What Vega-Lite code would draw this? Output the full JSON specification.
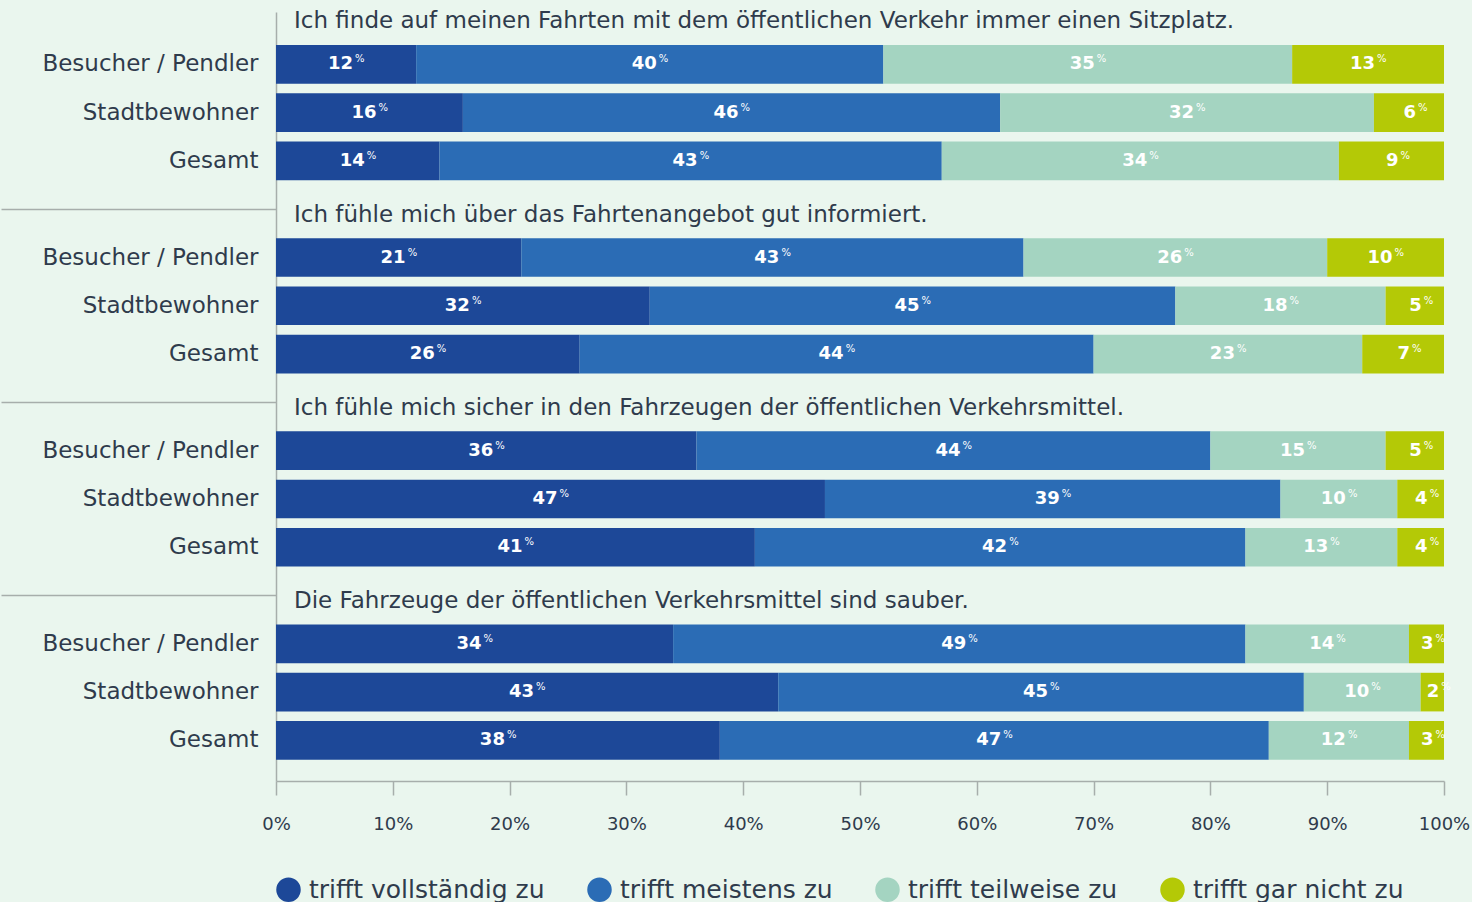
{
  "$schema": "https://vega.github.io/schema/vega-lite/v6.json",
  "width": 1168,
  "height": 769,
  "padding": {"left": 0, "top": 10, "right": 30, "bottom": 2},
  "background": "#eaf6ee",
  "config": {
    "view": {"stroke": null},
    "font": "DejaVu Sans"
  },
  "datasets": {
    "bars": [
      {"row": "1|Besucher / Pendler", "answer": "trifft vollständig zu", "order": 1, "value": 12},
      {"row": "1|Besucher / Pendler", "answer": "trifft meistens zu", "order": 2, "value": 40},
      {"row": "1|Besucher / Pendler", "answer": "trifft teilweise zu", "order": 3, "value": 35},
      {"row": "1|Besucher / Pendler", "answer": "trifft gar nicht zu", "order": 4, "value": 13},
      {"row": "1|Stadtbewohner", "answer": "trifft vollständig zu", "order": 1, "value": 16},
      {"row": "1|Stadtbewohner", "answer": "trifft meistens zu", "order": 2, "value": 46},
      {"row": "1|Stadtbewohner", "answer": "trifft teilweise zu", "order": 3, "value": 32},
      {"row": "1|Stadtbewohner", "answer": "trifft gar nicht zu", "order": 4, "value": 6},
      {"row": "1|Gesamt", "answer": "trifft vollständig zu", "order": 1, "value": 14},
      {"row": "1|Gesamt", "answer": "trifft meistens zu", "order": 2, "value": 43},
      {"row": "1|Gesamt", "answer": "trifft teilweise zu", "order": 3, "value": 34},
      {"row": "1|Gesamt", "answer": "trifft gar nicht zu", "order": 4, "value": 9},
      {"row": "2|Besucher / Pendler", "answer": "trifft vollständig zu", "order": 1, "value": 21},
      {"row": "2|Besucher / Pendler", "answer": "trifft meistens zu", "order": 2, "value": 43},
      {"row": "2|Besucher / Pendler", "answer": "trifft teilweise zu", "order": 3, "value": 26},
      {"row": "2|Besucher / Pendler", "answer": "trifft gar nicht zu", "order": 4, "value": 10},
      {"row": "2|Stadtbewohner", "answer": "trifft vollständig zu", "order": 1, "value": 32},
      {"row": "2|Stadtbewohner", "answer": "trifft meistens zu", "order": 2, "value": 45},
      {"row": "2|Stadtbewohner", "answer": "trifft teilweise zu", "order": 3, "value": 18},
      {"row": "2|Stadtbewohner", "answer": "trifft gar nicht zu", "order": 4, "value": 5},
      {"row": "2|Gesamt", "answer": "trifft vollständig zu", "order": 1, "value": 26},
      {"row": "2|Gesamt", "answer": "trifft meistens zu", "order": 2, "value": 44},
      {"row": "2|Gesamt", "answer": "trifft teilweise zu", "order": 3, "value": 23},
      {"row": "2|Gesamt", "answer": "trifft gar nicht zu", "order": 4, "value": 7},
      {"row": "3|Besucher / Pendler", "answer": "trifft vollständig zu", "order": 1, "value": 36},
      {"row": "3|Besucher / Pendler", "answer": "trifft meistens zu", "order": 2, "value": 44},
      {"row": "3|Besucher / Pendler", "answer": "trifft teilweise zu", "order": 3, "value": 15},
      {"row": "3|Besucher / Pendler", "answer": "trifft gar nicht zu", "order": 4, "value": 5},
      {"row": "3|Stadtbewohner", "answer": "trifft vollständig zu", "order": 1, "value": 47},
      {"row": "3|Stadtbewohner", "answer": "trifft meistens zu", "order": 2, "value": 39},
      {"row": "3|Stadtbewohner", "answer": "trifft teilweise zu", "order": 3, "value": 10},
      {"row": "3|Stadtbewohner", "answer": "trifft gar nicht zu", "order": 4, "value": 4},
      {"row": "3|Gesamt", "answer": "trifft vollständig zu", "order": 1, "value": 41},
      {"row": "3|Gesamt", "answer": "trifft meistens zu", "order": 2, "value": 42},
      {"row": "3|Gesamt", "answer": "trifft teilweise zu", "order": 3, "value": 13},
      {"row": "3|Gesamt", "answer": "trifft gar nicht zu", "order": 4, "value": 4},
      {"row": "4|Besucher / Pendler", "answer": "trifft vollständig zu", "order": 1, "value": 34},
      {"row": "4|Besucher / Pendler", "answer": "trifft meistens zu", "order": 2, "value": 49},
      {"row": "4|Besucher / Pendler", "answer": "trifft teilweise zu", "order": 3, "value": 14},
      {"row": "4|Besucher / Pendler", "answer": "trifft gar nicht zu", "order": 4, "value": 3},
      {"row": "4|Stadtbewohner", "answer": "trifft vollständig zu", "order": 1, "value": 43},
      {"row": "4|Stadtbewohner", "answer": "trifft meistens zu", "order": 2, "value": 45},
      {"row": "4|Stadtbewohner", "answer": "trifft teilweise zu", "order": 3, "value": 10},
      {"row": "4|Stadtbewohner", "answer": "trifft gar nicht zu", "order": 4, "value": 2},
      {"row": "4|Gesamt", "answer": "trifft vollständig zu", "order": 1, "value": 38},
      {"row": "4|Gesamt", "answer": "trifft meistens zu", "order": 2, "value": 47},
      {"row": "4|Gesamt", "answer": "trifft teilweise zu", "order": 3, "value": 12},
      {"row": "4|Gesamt", "answer": "trifft gar nicht zu", "order": 4, "value": 3}
    ],
    "titles": [
      {"row": "1|Besucher / Pendler", "title": "Ich finde auf meinen Fahrten mit dem öffentlichen Verkehr immer einen Sitzplatz."},
      {"row": "2|Besucher / Pendler", "title": "Ich fühle mich über das Fahrtenangebot gut informiert."},
      {"row": "3|Besucher / Pendler", "title": "Ich fühle mich sicher in den Fahrzeugen der öffentlichen Verkehrsmittel."},
      {"row": "4|Besucher / Pendler", "title": "Die Fahrzeuge der öffentlichen Verkehrsmittel sind sauber."}
    ]
  },
  "data": {"name": "bars"},
  "transform": [
    {"stack": "value", "groupby": ["row"], "sort": [{"field": "order"}], "as": ["x0", "x1"]},
    {"calculate": "(datum.x0 + datum.x1) / 2", "as": "mid"}
  ],
  "encoding": {
    "y": {
      "field": "row",
      "type": "nominal",
      "scale": {
        "domain": [
          "1|Besucher / Pendler", "1|Stadtbewohner", "1|Gesamt", "S2|",
          "2|Besucher / Pendler", "2|Stadtbewohner", "2|Gesamt", "S3|",
          "3|Besucher / Pendler", "3|Stadtbewohner", "3|Gesamt", "S4|",
          "4|Besucher / Pendler", "4|Stadtbewohner", "4|Gesamt"
        ],
        "paddingInner": 0.2,
        "paddingOuter": 0.5625,
        "align": 0.608
      },
      "axis": {
        "title": null,
        "labelExpr": "split(datum.value, '|')[1]",
        "labelFont": "DejaVu Sans",
        "labelFontSize": 23,
        "labelColor": "#2f3b4c",
        "labelPadding": -257,
        "labelLimit": 400,
        "tickSize": 275,
        "tickWidth": 1.5,
        "tickColor": {"condition": {"test": "indexof(datum.value, 'S') === 0", "value": "#a7aeab"}, "value": "rgba(0,0,0,0)"},
        "domainColor": "#a7aeab",
        "domainWidth": 1.5
      }
    }
  },
  "layer": [
    {
      "mark": {"type": "bar"},
      "encoding": {
        "x": {
          "field": "x0",
          "type": "quantitative",
          "scale": {"domain": [0, 100], "nice": false},
          "axis": {
            "title": null,
            "values": [0, 10, 20, 30, 40, 50, 60, 70, 80, 90, 100],
            "labelExpr": "datum.value + '%'",
            "grid": false,
            "labelFont": "DejaVu Sans",
            "labelFontSize": 18,
            "labelColor": "#2f3b4c",
            "labelPadding": 20,
            "tickSize": 14,
            "tickWidth": 1.5,
            "tickColor": "#a7aeab",
            "domainColor": "#a7aeab",
            "domainWidth": 1.5,
            "labelFlush": false
          }
        },
        "x2": {"field": "x1"},
        "color": {
          "field": "answer",
          "type": "nominal",
          "scale": {
            "domain": ["trifft vollständig zu", "trifft meistens zu", "trifft teilweise zu", "trifft gar nicht zu"],
            "range": ["#1d4898", "#2b6cb5", "#a4d4c1", "#b4c906"]
          },
          "legend": {
            "title": null,
            "orient": "bottom",
            "direction": "horizontal",
            "symbolType": "circle",
            "symbolSize": 600,
            "symbolStrokeWidth": 0,
            "labelFont": "DejaVu Sans",
            "labelFontSize": 25,
            "labelColor": "#2f3b4c",
            "labelOffset": 8,
            "columnPadding": 42,
            "offset": 44,
            "labelLimit": 400
          }
        }
      }
    },
    {
      "mark": {"type": "text", "align": "right", "baseline": "middle", "dx": 7, "fontSize": 18, "fontWeight": "bold", "color": "white"},
      "encoding": {
        "x": {"field": "mid", "type": "quantitative"},
        "text": {"field": "value", "type": "quantitative"}
      }
    },
    {
      "mark": {"type": "text", "align": "left", "baseline": "middle", "dx": 9, "dy": -5, "fontSize": 10, "color": "white"},
      "encoding": {
        "x": {"field": "mid", "type": "quantitative"},
        "text": {"value": "%"}
      }
    },
    {
      "data": {"name": "titles"},
      "mark": {"type": "text", "align": "left", "baseline": "middle", "dx": 18, "dy": -43, "fontSize": 23, "color": "#2f3b4c"},
      "encoding": {
        "x": {"datum": 0, "type": "quantitative"},
        "text": {"field": "title"}
      }
    }
  ]
}
